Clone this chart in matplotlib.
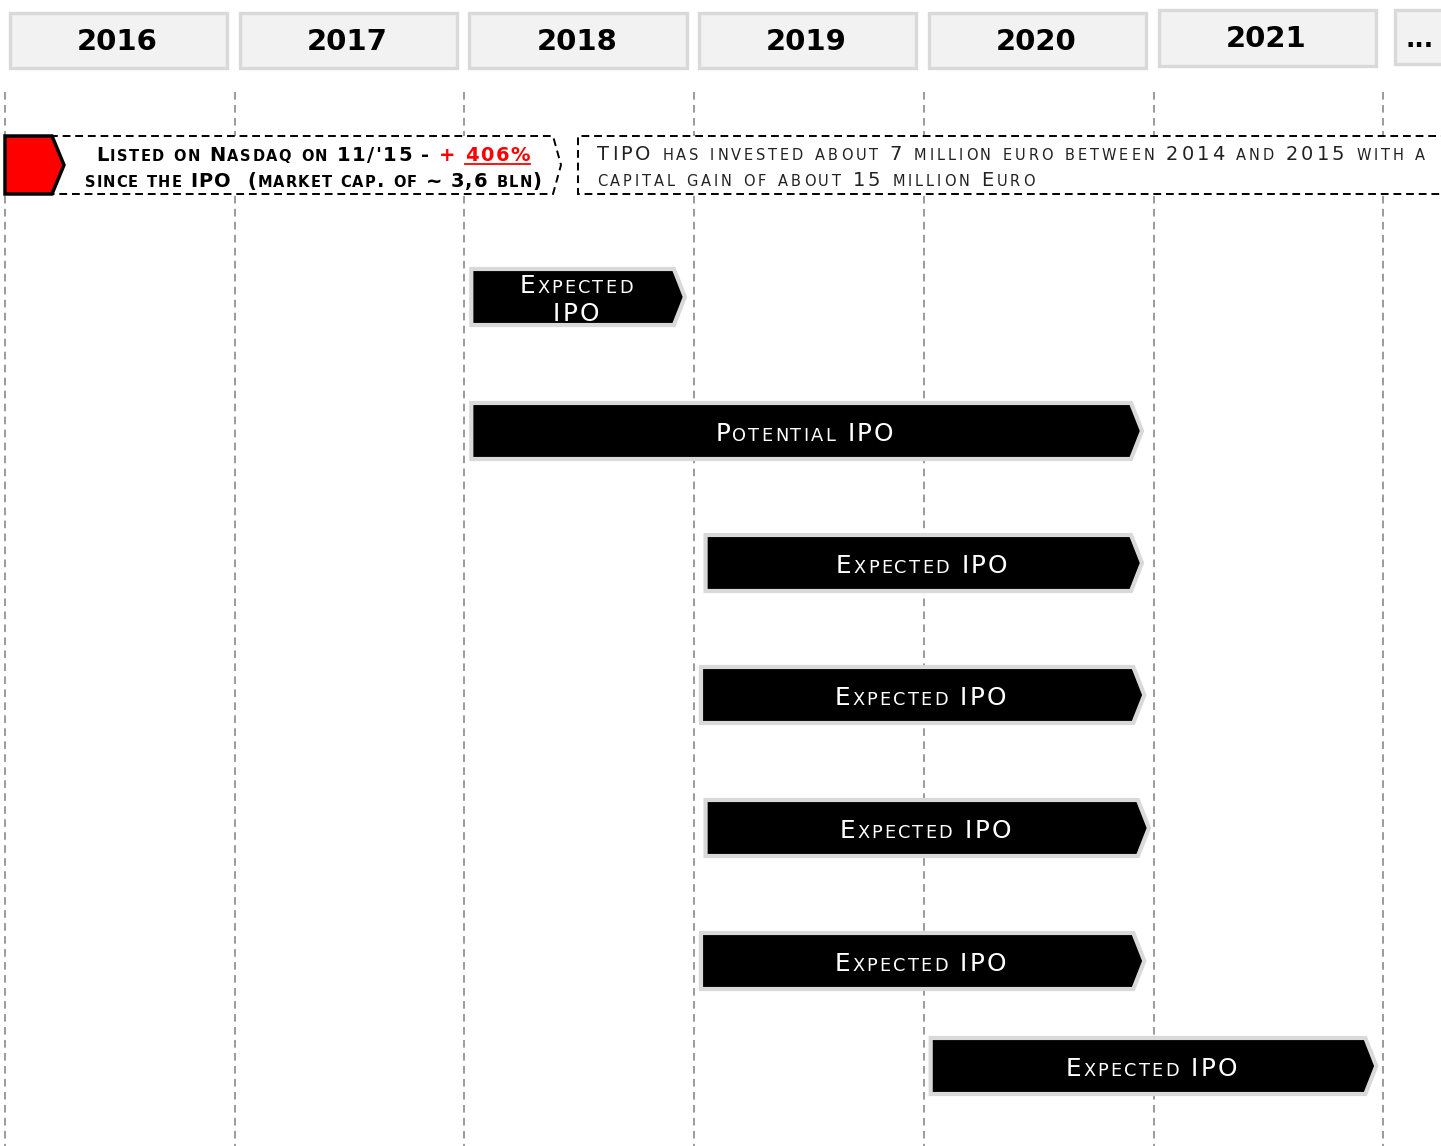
import matplotlib.pyplot as plt
import numpy as np
from matplotlib.patches import Polygon, Rectangle
from matplotlib.lines import Line2D
from matplotlib.transforms import ScaledTranslation, IdentityTransform
from matplotlib.font_manager import findfont, FontProperties
from matplotlib.ft2font import FT2Font

years = ["2016", "2017", "2018", "2019", "2020", "2021"]
year_start = [2016, 2017, 2018, 2019, 2020, 2021]

bar_labels = ["Expected\nIPO", "Potential IPO", "Expected IPO", "Expected IPO",
              "Expected IPO", "Expected IPO", "Expected IPO"]
bar_start = [2018.03, 2018.03, 2019.05, 2019.03, 2019.05, 2019.03, 2020.03]
bar_end = [2018.96, 2020.95, 2020.95, 2020.96, 2020.98, 2020.96, 2021.97]

note_left_1 = [("Listed on Nasdaq on 11/'15 - ", "black", False),
               ("+ ", "red", False), ("406%", "red", True)]
note_left_2 = [("since the IPO  (market cap. of ~ 3,6 bln)", "black", False)]
note_right = ["TIPO has invested about 7 million euro between 2014 and 2015 with a",
              "capital gain of about 15 million Euro"]

# layout (pixels on y, years on x)
DPI = 100
PX = 229.7
row_y = [297, 431, 563, 695, 828, 961, 1066]
BAR_H = 56
TIP = 11 / PX
FONT = 'DejaVu Sans'

_fonts = {}


def advance(ch, size, weight):
    path = findfont(FontProperties(family=FONT, weight=weight))
    if path not in _fonts:
        _fonts[path] = FT2Font(path)
    f = _fonts[path]
    f.set_size(size, DPI)
    g = f.load_char(ord(ch))
    return g.linearHoriAdvance / 65536


def small_caps(ax, x, y, segments, big, small, track, weight='normal',
               ha='center'):
    # fake small caps: lowercase letters drawn as smaller capitals,
    # placed glyph by glyph with extra letter spacing (track, in px)
    glyphs = []
    pen = 0.0
    for text, color, under in segments:
        for ch in text:
            size = small if ch.islower() else big
            c = ch.upper()
            adv = advance(c, size, weight)
            glyphs.append((c, size, color, under, pen, adv))
            pen += adv + track
    total = pen - track
    start = -total / 2 if ha == 'center' else 0.0
    fig = ax.figure
    for c, size, color, under, p, adv in glyphs:
        if c == ' ':
            continue
        tr = ax.transData + ScaledTranslation((start + p) / DPI, 0,
                                              fig.dpi_scale_trans)
        ax.text(x, y, c, transform=tr, fontsize=size, color=color,
                family=FONT, weight=weight, ha='left', va='baseline', zorder=10)
    ul = [g for g in glyphs if g[3] and g[0] != ' ']
    if ul:
        ox, oy = ax.transData.transform((x, y + 2.5))
        xa = ox + start + ul[0][4]
        xb = ox + start + ul[-1][4] + ul[-1][5]
        ax.add_line(Line2D([xa, xb], [oy, oy], color=ul[0][2], linewidth=1.3,
                           transform=IdentityTransform(), zorder=10))


def main():
    fig = plt.figure(figsize=(14.41, 11.46), dpi=DPI)
    ax = fig.add_axes([0, 0, 1, 1])
    ax.set_xlim(2016 - 5 / PX, 2016 + 1436 / PX)
    ax.set_ylim(1146, 0)
    ax.axis('off')

    # dashed year separators
    edges = year_start + [2022]
    ax.vlines(edges, 92, 1146, colors='#808080', linewidth=1.1,
              linestyles=(0, (5, 3.5)), zorder=1)

    # year headers
    for i, yr in enumerate(years):
        top, bot = (13, 68) if yr != "2021" else (10, 66)
        ax.add_patch(Rectangle((year_start[i] + 0.022, top), 0.945, bot - top,
                               facecolor='#f2f2f2', edgecolor='#d9d9d9',
                               linewidth=2.4, zorder=3))
        ax.text(year_start[i] + 0.49, (top + bot) / 2 + 1, yr, ha='center',
                va='center', fontsize=21, fontweight='bold', zorder=4)
    ax.add_patch(Rectangle((2022.05, 10), 0.5, 54, facecolor='#f2f2f2',
                           edgecolor='#d9d9d9', linewidth=2.4, zorder=3))
    ax.text(2022.16, 40, "...", ha='center', va='center', fontsize=18,
            fontweight='bold', zorder=4)

    # left note: red marker + dashed chevron box
    x_a, x_b = 2016 + 45 / PX, 2016 + 548 / PX
    ax.add_patch(Polygon([(x_a, 136), (x_b, 136), (x_b + 8 / PX, 165),
                          (x_b, 194), (x_a, 194)], closed=True,
                         facecolor='white', edgecolor='black', linewidth=1.4,
                         linestyle=(0, (4, 2.5)), zorder=2))
    ax.add_patch(Polygon([(2016.0, 136), (2016 + 47 / PX, 136),
                          (2016 + 59 / PX, 165), (2016 + 47 / PX, 194),
                          (2016.0, 194)], closed=True, facecolor='#ff0000',
                         edgecolor='black', linewidth=2.5, zorder=3))
    small_caps(ax, 2016 + 308 / PX, 161, note_left_1, 14, 10.5, 1.5, 'bold')
    small_caps(ax, 2016 + 308 / PX, 187, note_left_2, 14, 10.5, 1.1, 'bold')

    # right note: dashed open box
    x_r = 2016 + 573 / PX
    ax.add_patch(Polygon([(2023.0, 136), (x_r, 136), (x_r, 194), (2023.0, 194)],
                         closed=True, facecolor='white', edgecolor='black',
                         linewidth=1.4, linestyle=(0, (4, 2.5)), zorder=2))
    for j, line in enumerate(note_right):
        small_caps(ax, 2016 + 592 / PX, 160 + 26 * j, [(line, '#222222', False)],
                   14, 10.5, 2.85, ha='left')

    # IPO arrows
    for lab, x0, x1, yc in zip(bar_labels, bar_start, bar_end, row_y):
        t, b = yc - BAR_H / 2, yc + BAR_H / 2
        ax.add_patch(Polygon([(x0, t), (x1 - TIP, t), (x1, yc), (x1 - TIP, b),
                              (x0, b)], closed=True, facecolor='black',
                             edgecolor='#d9d9d9', linewidth=3, zorder=5))
        lines = lab.split("\n")
        for k, ln in enumerate(lines):
            off = (k - (len(lines) - 1) / 2) * 28
            small_caps(ax, (x0 + x1) / 2 - 0.01, yc + off + 10,
                       [(ln, 'white', False)], 17.8, 12.8, 2.2)

    fig.savefig("out.png", dpi=DPI)


if __name__ == "__main__":
    main()
